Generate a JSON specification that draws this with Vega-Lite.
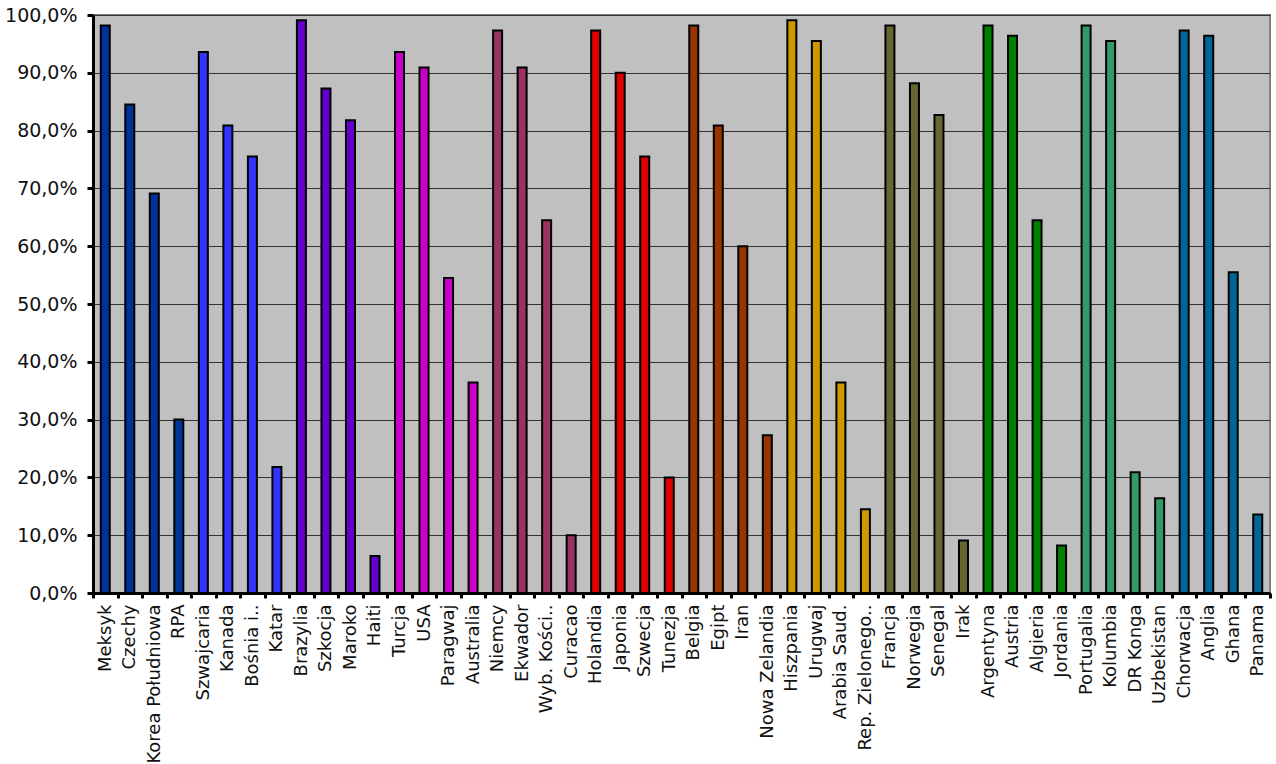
{
  "$schema": "https://vega.github.io/schema/vega-lite/v6.json",
  "width": 1177,
  "height": 578,
  "autosize": {"type": "none"},
  "padding": {"left": 93, "top": 15, "right": 6, "bottom": 171},
  "background": "white",
  "config": {
    "view": {"fill": "#C0C0C0", "stroke": "#808080", "strokeWidth": 2},
    "font": "DejaVu Sans"
  },
  "data": {
    "values": [
      {"kraj": "Meksyk", "grupa": "A", "v": 0.982},
      {"kraj": "Czechy", "grupa": "A", "v": 0.845},
      {"kraj": "Korea Południowa", "grupa": "A", "v": 0.691},
      {"kraj": "RPA", "grupa": "A", "v": 0.300},
      {"kraj": "Szwajcaria", "grupa": "B", "v": 0.936},
      {"kraj": "Kanada", "grupa": "B", "v": 0.809},
      {"kraj": "Bośnia i..", "grupa": "B", "v": 0.755},
      {"kraj": "Katar", "grupa": "B", "v": 0.218},
      {"kraj": "Brazylia", "grupa": "C", "v": 0.991},
      {"kraj": "Szkocja", "grupa": "C", "v": 0.873},
      {"kraj": "Maroko", "grupa": "C", "v": 0.818},
      {"kraj": "Haiti", "grupa": "C", "v": 0.064},
      {"kraj": "Turcja", "grupa": "D", "v": 0.936},
      {"kraj": "USA", "grupa": "D", "v": 0.909},
      {"kraj": "Paragwaj", "grupa": "D", "v": 0.545},
      {"kraj": "Australia", "grupa": "D", "v": 0.364},
      {"kraj": "Niemcy", "grupa": "E", "v": 0.973},
      {"kraj": "Ekwador", "grupa": "E", "v": 0.909},
      {"kraj": "Wyb. Kości..", "grupa": "E", "v": 0.645},
      {"kraj": "Curacao", "grupa": "E", "v": 0.100},
      {"kraj": "Holandia", "grupa": "F", "v": 0.973},
      {"kraj": "Japonia", "grupa": "F", "v": 0.900},
      {"kraj": "Szwecja", "grupa": "F", "v": 0.755},
      {"kraj": "Tunezja", "grupa": "F", "v": 0.200},
      {"kraj": "Belgia", "grupa": "G", "v": 0.982},
      {"kraj": "Egipt", "grupa": "G", "v": 0.809},
      {"kraj": "Iran", "grupa": "G", "v": 0.600},
      {"kraj": "Nowa Zelandia", "grupa": "G", "v": 0.273},
      {"kraj": "Hiszpania", "grupa": "H", "v": 0.991},
      {"kraj": "Urugwaj", "grupa": "H", "v": 0.955},
      {"kraj": "Arabia Saud.", "grupa": "H", "v": 0.364},
      {"kraj": "Rep. Zielonego..", "grupa": "H", "v": 0.145},
      {"kraj": "Francja", "grupa": "I", "v": 0.982},
      {"kraj": "Norwegia", "grupa": "I", "v": 0.882},
      {"kraj": "Senegal", "grupa": "I", "v": 0.827},
      {"kraj": "Irak", "grupa": "I", "v": 0.091},
      {"kraj": "Argentyna", "grupa": "J", "v": 0.982},
      {"kraj": "Austria", "grupa": "J", "v": 0.964},
      {"kraj": "Algieria", "grupa": "J", "v": 0.645},
      {"kraj": "Jordania", "grupa": "J", "v": 0.082},
      {"kraj": "Portugalia", "grupa": "K", "v": 0.982},
      {"kraj": "Kolumbia", "grupa": "K", "v": 0.955},
      {"kraj": "DR Konga", "grupa": "K", "v": 0.209},
      {"kraj": "Uzbekistan", "grupa": "K", "v": 0.164},
      {"kraj": "Chorwacja", "grupa": "L", "v": 0.973},
      {"kraj": "Anglia", "grupa": "L", "v": 0.964},
      {"kraj": "Ghana", "grupa": "L", "v": 0.555},
      {"kraj": "Panama", "grupa": "L", "v": 0.136}
    ]
  },
  "mark": {"type": "bar", "width": 9, "stroke": "black", "strokeWidth": 2},
  "encoding": {
    "x": {
      "field": "kraj",
      "type": "nominal",
      "sort": null,
      "scale": {"paddingInner": 0, "paddingOuter": 0},
      "axis": {
        "title": null,
        "labelAngle": -90,
        "labelAlign": "right",
        "labelBaseline": "middle",
        "labelFontSize": 18,
        "labelColor": "#111",
        "labelPadding": 6,
        "labelLimit": 200,
        "tickBand": "extent",
        "tickColor": "black",
        "tickWidth": 3,
        "tickSize": 5,
        "domainColor": "black",
        "domainWidth": 3
      }
    },
    "y": {
      "field": "v",
      "type": "quantitative",
      "scale": {"domain": [0, 1], "nice": false},
      "axis": {
        "title": null,
        "values": [0, 0.1, 0.2, 0.3, 0.4, 0.5, 0.6, 0.7, 0.8, 0.9, 1.0],
        "labelExpr": "replace(format(datum.value, '.1%'), '.', ',')",
        "labelFontSize": 19,
        "labelColor": "#111",
        "labelPadding": 10,
        "tickColor": "black",
        "tickWidth": 3,
        "tickSize": 6,
        "domainColor": "black",
        "domainWidth": 3,
        "grid": true,
        "gridColor": "#333333",
        "gridWidth": 1
      }
    },
    "color": {
      "field": "grupa",
      "type": "nominal",
      "legend": null,
      "scale": {
        "domain": ["A", "B", "C", "D", "E", "F", "G", "H", "I", "J", "K", "L"],
        "range": ["#003399", "#3333FF", "#6600CC", "#CC00CC", "#993366", "#DD0000", "#993300", "#CC9900", "#666633", "#008000", "#339966", "#006699"]
      }
    }
  }
}
